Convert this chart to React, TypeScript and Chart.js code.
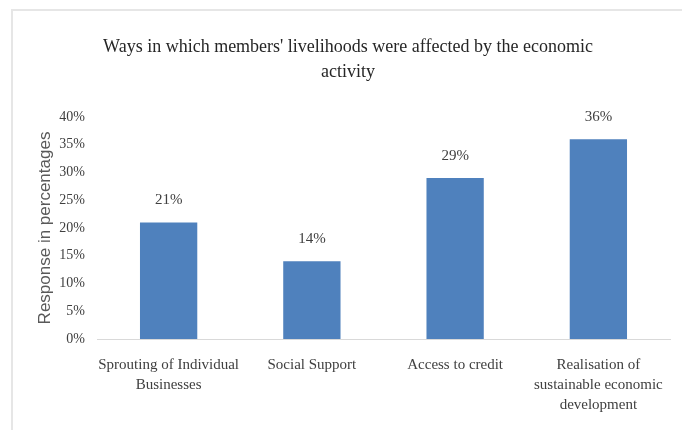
import React, { useEffect, useRef } from "react";
import { Chart, registerables } from "chart.js";

Chart.register(...registerables);

const titleLines = [
  "Ways in which members' livelihoods were affected by the economic",
  "activity",
];
const categories: string[][] = [
  ["Sprouting of Individual", "Businesses"],
  ["Social Support"],
  ["Access to credit"],
  ["Realisation of", "sustainable economic", "development"],
];
const values = [21, 14, 29, 36];
const yTitle = "Response in percentages";
const yMin = 0;
const yMax = 40;
const yStep = 5;

const SERIF = "'Liberation Serif', 'Times New Roman', serif";

const valueLabelPlugin = {
  id: "valueLabels",
  afterDatasetsDraw(chart: any) {
    const ctx = chart.ctx;
    const meta = chart.getDatasetMeta(0);
    ctx.save();
    ctx.font = `15px ${SERIF}`;
    ctx.fillStyle = "#404040";
    ctx.textAlign = "center";
    ctx.textBaseline = "middle";
    meta.data.forEach((bar: any, i: number) => {
      ctx.fillText(`${values[i]}%`, bar.x, bar.y - 22);
    });
    ctx.restore();
  },
};

const titlePlugin = {
  id: "centeredTitle",
  afterDraw(chart: any) {
    const ctx = chart.ctx;
    ctx.save();
    ctx.font = `18px ${SERIF}`;
    ctx.fillStyle = "#262626";
    ctx.textAlign = "center";
    ctx.textBaseline = "middle";
    titleLines.forEach((line, i) => {
      ctx.fillText(line, 348, 47 + i * 25);
    });
    ctx.restore();
  },
};

export default function App() {
  const ref = useRef<HTMLCanvasElement | null>(null);
  useEffect(() => {
    if (!ref.current) return;
    const chart = new Chart(ref.current, {
      type: "bar",
      data: {
        labels: categories,
        datasets: [
          {
            data: values,
            backgroundColor: "#4F81BD",
            borderWidth: 0,
            barPercentage: 0.4,
            categoryPercentage: 1,
          },
        ],
      },
      options: {
        animation: false,
        responsive: false,
        layout: { padding: { left: 0, right: 12, top: 117, bottom: 0 } },
        plugins: {
          legend: { display: false },
          tooltip: { enabled: false },
          title: { display: false },
        },
        scales: {
          x: {
            grid: { display: false },
            border: { display: true, color: "#d9d9d9", width: 1 },
            ticks: {
              color: "#404040",
              font: { family: SERIF, size: 15, lineHeight: 1.33 },
              padding: 8,
              maxRotation: 0,
              autoSkip: false,
            },
            afterFit(scale: any) {
              scale.height = 91;
            },
          },
          y: {
            min: yMin,
            max: yMax,
            grid: { display: false, drawTicks: false },
            border: { display: false },
            ticks: {
              stepSize: yStep,
              color: "#404040",
              font: { family: SERIF, size: 14 },
              padding: 12,
              callback: (v: any) => `${v}%`,
            },
            title: {
              display: true,
              text: yTitle,
              color: "#595959",
              font: { family: "'Liberation Sans', Arial, sans-serif", size: 17, weight: "normal" },
              padding: { top: 35, bottom: 0 },
            },
            afterFit(scale: any) {
              scale.width = 97;
            },
          },
        },
      },
      plugins: [valueLabelPlugin, titlePlugin],
    } as any);
    return () => chart.destroy();
  }, []);

  return (
    <div style={{ position: "absolute", left: 0, top: 0, width: 682, height: 430, background: "#fff" }}>
      <div
        style={{
          position: "absolute",
          left: 11,
          top: 9,
          right: 0,
          bottom: 0,
          borderLeft: "2px solid #e6e6e6",
          borderTop: "2px solid #e6e6e6",
        }}
      />
      <canvas ref={ref} width={682} height={430} style={{ position: "absolute", left: 0, top: 0 }} />
    </div>
  );
}
